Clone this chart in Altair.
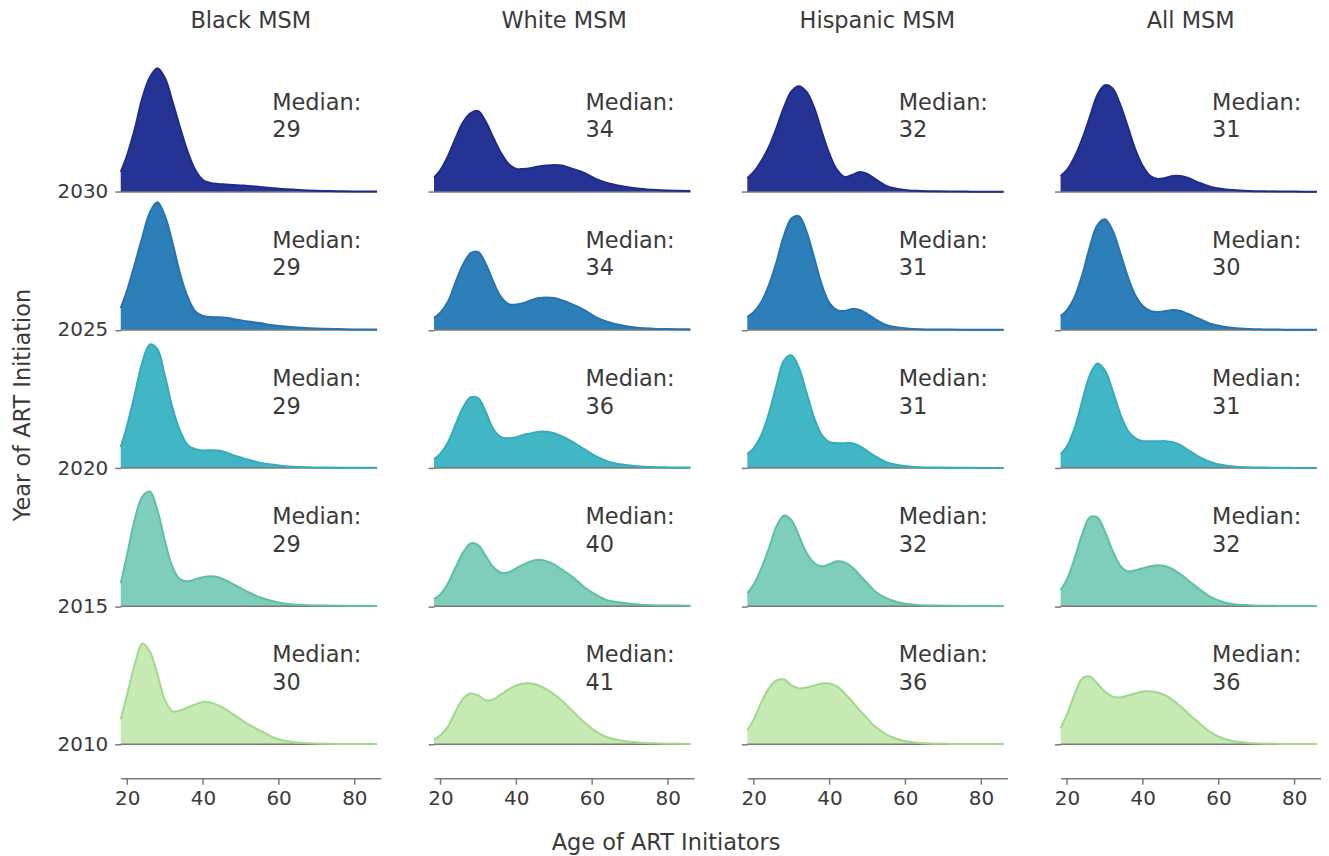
import altair as alt
import pandas as pd

# ---------------- data ----------------
AGES = [18.3, 20, 22, 24, 26, 28, 30, 32, 34, 36, 38, 40, 42, 44, 46, 48,
        50, 52, 55, 58, 61, 64, 68, 72, 76, 80, 86]
GROUPS = ["Black MSM", "White MSM", "Hispanic MSM", "All MSM"]
YEARS = [2030, 2025, 2020, 2015, 2010]

# relative density heights per age (same units in every panel)
BLACK_2030 = [20, 37, 63, 94, 115, 124, 114, 90, 64, 40, 22, 12, 9, 8, 7.5, 7, 6.5, 6, 5, 4, 3, 2.3, 1.5, 1, 0.7, 0.5, 0.4]
BLACK_2025 = [22, 40, 66, 93, 118, 128, 114, 87, 56, 33, 18.5, 14, 13, 12.8, 12.3, 11, 9.7, 8.5, 7, 5, 3.8, 2.8, 1.8, 1.2, 0.9, 0.6, 0.5]
BLACK_2020 = [21, 43, 74, 106, 124, 119, 92, 60, 37, 23, 19, 17.6, 18, 17.6, 16, 13, 10.6, 8.3, 5.5, 3.5, 2.2, 1.3, 0.8, 0.5, 0.4, 0.3, 0.3]
BLACK_2015 = [23, 52, 87, 110, 115, 96, 65, 39, 27, 25, 27, 29, 30, 29, 26, 22, 18, 14, 9, 5.5, 3, 1.6, 0.9, 0.6, 0.4, 0.3, 0.3]
BLACK_2010 = [25, 50, 80, 101, 93, 70, 44, 33, 34, 37, 40, 42.5, 42, 39, 35, 30, 25, 20, 14, 8, 4, 2, 1, 0.6, 0.4, 0.3, 0.3]

WHITE_2030 = [14.5, 22, 36, 54, 70, 79, 81, 70, 54, 39, 28, 23, 23, 24, 25.5, 26.4, 27, 26.4, 23, 19, 13, 9, 5.7, 3.5, 2.2, 1.3, 0.9]
WHITE_2025 = [12, 17.6, 28.6, 48, 66, 77, 78, 66, 48, 33, 26, 25.5, 27, 30, 32, 32.5, 32, 30, 25.5, 20, 13, 8.4, 4.4, 2.2, 1.3, 0.9, 0.7]
WHITE_2020 = [9, 14.5, 26, 44, 61, 71, 70, 56, 39, 31, 30, 31, 33.5, 35, 36.5, 36.5, 35, 32, 26, 19, 12, 7, 3.5, 1.8, 1, 0.7, 0.5]
WHITE_2015 = [7, 12, 23, 39, 54, 63, 61, 50, 39, 33.5, 34, 38, 42, 45, 46.5, 45, 42, 37, 29, 19, 11.5, 6, 3.5, 1.8, 1, 0.7, 0.5]
WHITE_2010 = [5, 9, 18, 33, 46, 51, 49, 44, 45, 50, 55, 59, 61, 61, 59, 55, 50, 44, 33, 22, 13, 7, 3.5, 1.8, 1, 0.6, 0.4]

HISP_2030 = [14, 20, 31, 45, 64, 85, 101, 106, 100, 84, 60, 38, 22, 15, 17, 20, 18, 13, 6, 3, 1.5, 1, 0.6, 0.4, 0.3, 0.2, 0.2]
HISP_2025 = [13, 18, 28, 45, 68, 95, 112, 114, 98, 72, 45, 27, 20, 19, 21, 20, 16, 11, 5, 2.5, 1.3, 0.8, 0.5, 0.4, 0.3, 0.2, 0.2]
HISP_2020 = [14, 20, 33, 55, 83, 108, 113, 100, 75, 50, 33, 26, 25, 25, 25, 22, 17, 12, 6, 3, 1.5, 0.8, 0.5, 0.4, 0.3, 0.2, 0.2]
HISP_2015 = [13, 22, 38, 58, 80, 91, 86, 70, 53, 43, 40, 42, 45, 44, 39, 31, 23, 15, 8, 4, 2, 1, 0.6, 0.4, 0.3, 0.2, 0.2]
HISP_2010 = [14, 25, 42, 56, 64, 65, 59, 56, 57, 59, 61, 61, 58, 51, 43, 34, 26, 18, 10, 5, 2.5, 1.2, 0.6, 0.4, 0.3, 0.2, 0.2]

ALL_2030 = [16, 22, 35, 53, 75, 97, 107, 104, 88, 66, 43, 26, 16, 13, 14, 16, 16, 14, 9, 5, 3, 1.8, 1, 0.6, 0.4, 0.3, 0.2]
ALL_2025 = [14, 20, 33, 55, 83, 105, 111, 100, 78, 54, 35, 24, 19, 18, 19, 20, 19, 16, 11, 6, 3.5, 2, 1, 0.6, 0.4, 0.3, 0.2]
ALL_2020 = [14, 22, 40, 67, 93, 105, 98, 78, 55, 38, 30, 27, 27, 27, 27, 26, 23, 18, 11, 6, 3, 1.6, 0.8, 0.5, 0.3, 0.2, 0.2]
ALL_2015 = [16, 27, 48, 72, 89, 89, 75, 56, 41, 35, 36, 38, 40, 41, 40, 37, 32, 26, 17, 9, 4.5, 2, 1, 0.5, 0.3, 0.2, 0.2]
ALL_2010 = [16, 30, 50, 66, 68, 61, 53, 48, 47, 49, 51, 53, 53, 52, 49, 44, 38, 31, 21, 12, 6, 3, 1.3, 0.6, 0.4, 0.3, 0.2]

MEDIANS_BLACK = [29, 29, 29, 29, 30]
MEDIANS_WHITE = [34, 34, 36, 40, 41]
MEDIANS_HISP = [32, 31, 31, 32, 36]
MEDIANS_ALL = [31, 30, 31, 32, 36]

CURVES = {
    "Black MSM": [BLACK_2030, BLACK_2025, BLACK_2020, BLACK_2015, BLACK_2010],
    "White MSM": [WHITE_2030, WHITE_2025, WHITE_2020, WHITE_2015, WHITE_2010],
    "Hispanic MSM": [HISP_2030, HISP_2025, HISP_2020, HISP_2015, HISP_2010],
    "All MSM": [ALL_2030, ALL_2025, ALL_2020, ALL_2015, ALL_2010],
}
MEDIANS = {
    "Black MSM": MEDIANS_BLACK,
    "White MSM": MEDIANS_WHITE,
    "Hispanic MSM": MEDIANS_HISP,
    "All MSM": MEDIANS_ALL,
}

rows = []
for g in GROUPS:
    for yr, vals in zip(YEARS, CURVES[g]):
        for a, d in zip(AGES, vals):
            rows.append({"group": g, "year": yr, "age": a, "dens": d})
df = pd.DataFrame(rows)

mrows = []
for g in GROUPS:
    for yr, m in zip(YEARS, MEDIANS[g]):
        mrows.append({"group": g, "year": yr, "median": m})
mdf = pd.DataFrame(mrows)

# ---------------- styling ----------------
FILLS = ["#253494", "#2c7fb8", "#41b6c4", "#7fcdbb", "#c7e9b4"]
STROKES = ["#1f2b88", "#2872ad", "#37aabb", "#5fbfa5", "#9fd98a"]
RIDGE = 1 / 27.7          # years of vertical space per density unit
TEXT_COLOR = "#3a3a3a"
AXIS_GRAY = "#7a7a7a"
FONT = "DejaVu Sans"
INTERP = "catmull-rom"

XSCALE = alt.Scale(domain=[18.3, 87], nice=False, zero=False)
YSCALE = alt.Scale(domain=[2010, 2034.6], nice=False, zero=False)


def panel(g, first):
    yaxis_kwargs = dict(values=YEARS, grid=False, domain=False, ticks=True,
                        tickSize=6, tickColor=AXIS_GRAY, tickWidth=1.5,
                        labels=first, labelFontSize=20, labelColor=TEXT_COLOR,
                        labelPadding=7, format="d")
    if first:
        yaxis_kwargs.update(title="Year of ART Initiation", titleFontSize=22.5,
                            titleFontWeight="normal", titleColor=TEXT_COLOR,
                            titlePadding=23)
    else:
        yaxis_kwargs.update(title=None)
    yaxis = alt.Axis(**yaxis_kwargs)
    xaxis = alt.Axis(values=[20, 40, 60, 80], offset=34, grid=False,
                     domainColor=AXIS_GRAY, domainWidth=1.5, tickColor=AXIS_GRAY,
                     tickWidth=1.5, tickSize=6, labelFontSize=20,
                     labelColor=TEXT_COLOR, labelPadding=4, title=None)

    base = alt.Chart(df).transform_filter(alt.datum.group == g).transform_calculate(
        top=f"datum.year + datum.dens * {RIDGE}")

    area = base.mark_area(interpolate=INTERP).encode(
        x=alt.X("age:Q", scale=XSCALE, axis=xaxis),
        y=alt.Y("top:Q", scale=YSCALE, axis=yaxis),
        y2="year:Q",
        fill=alt.Fill("year:O", scale=alt.Scale(domain=YEARS, range=FILLS), legend=None),
    )
    rule = base.transform_aggregate(
        amin="min(age)", amax="max(age)", groupby=["year"]
    ).mark_rule(color=AXIS_GRAY, strokeWidth=1.5).encode(
        x=alt.X("amin:Q", scale=XSCALE, axis=xaxis),
        x2="amax:Q",
        y=alt.Y("year:Q", scale=YSCALE, axis=yaxis),
    )
    line = base.mark_line(interpolate=INTERP, strokeWidth=2).encode(
        x=alt.X("age:Q", scale=XSCALE, axis=xaxis),
        y=alt.Y("top:Q", scale=YSCALE, axis=yaxis),
        stroke=alt.Stroke("year:O", scale=alt.Scale(domain=YEARS, range=STROKES), legend=None),
        detail="year:O",
    )
    text = alt.Chart(mdf).transform_filter(alt.datum.group == g).transform_calculate(
        label="'Median:\\n' + datum.median",
        ty="datum.year + 3.62",
        tx="58.3",
    ).mark_text(align="left", baseline="top", lineBreak="\n", fontSize=22.5,
                lineHeight=27.6, color=TEXT_COLOR, font=FONT).encode(
        x=alt.X("tx:Q", scale=XSCALE, axis=xaxis),
        y=alt.Y("ty:Q", scale=YSCALE, axis=yaxis),
        text="label:N",
    )
    return alt.layer(area, rule, line, text).properties(
        width=260.7, height=681,
        title=alt.TitleParams(g, fontSize=22.5, fontWeight="normal",
                              color=TEXT_COLOR, anchor="middle", offset=32, font=FONT),
    )


chart = alt.hconcat(*[panel(g, i == 0) for i, g in enumerate(GROUPS)], spacing=46).properties(
    title=alt.TitleParams("Age of ART Initiators", orient="bottom", anchor="middle",
                          fontSize=22.5, fontWeight="normal", color=TEXT_COLOR,
                          offset=24, font=FONT),
    padding={"left": 3, "top": 0, "right": 0, "bottom": 0},
).configure(font=FONT).configure_view(stroke=None, strokeWidth=0)

chart.save("out.html", embed_options={"renderer": "svg", "actions": False})
